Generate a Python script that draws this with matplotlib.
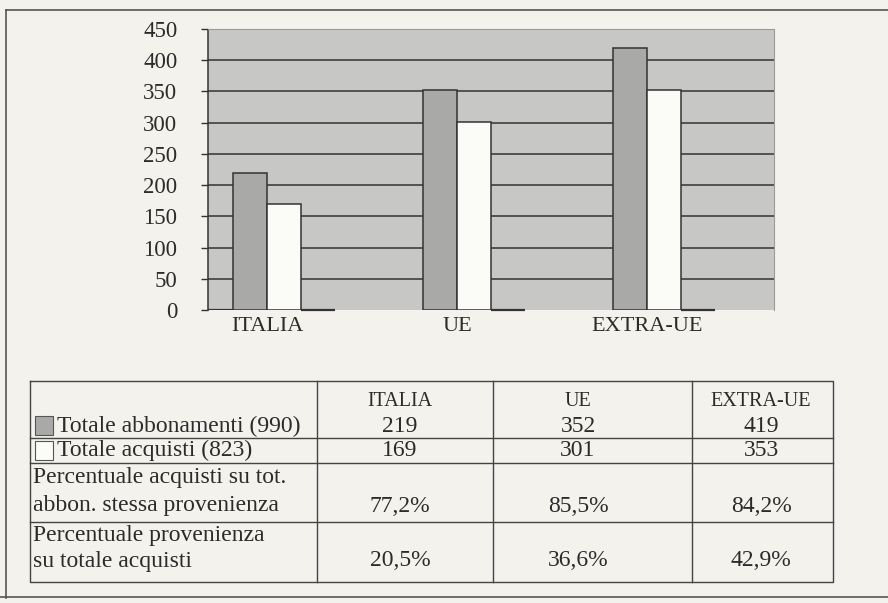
import matplotlib
matplotlib.use("Agg")
import matplotlib.pyplot as plt
from matplotlib.patches import Rectangle

# ---------------- data ----------------
categories = ["ITALIA", "UE", "EXTRA-UE"]
totale_abbonamenti = [219, 352, 419]
totale_acquisti = [169, 301, 353]
perc_acquisti_su_abbon = ["77,2%", "85,5%", "84,2%"]
perc_provenienza = ["20,5%", "36,6%", "42,9%"]
row_labels = [
    "Totale abbonamenti (990)",
    "Totale acquisti (823)",
    "Percentuale acquisti su tot.\nabbon. stessa provenienza",
    "Percentuale provenienza\nsu totale acquisti",
]
yticks = [0, 50, 100, 150, 200, 250, 300, 350, 400, 450]

# ---------------- style ----------------
W, H = 888, 603
DPI = 100
paper = "#f3f2ed"
plot_gray = "#c7c7c5"
bar_gray = "#a9a9a7"
bar_white = "#fbfbf8"
ink = "#2b2b2b"
serif = ["Liberation Serif", "DejaVu Serif"]
plt.rcParams["font.family"] = serif

fig = plt.figure(figsize=(W / DPI, H / DPI), dpi=DPI, facecolor=paper)

# ---------------- overlay (frame + table), pixel coordinates ----------------
ov = fig.add_axes([0, 0, 1, 1], zorder=0)
ov.set_xlim(0, W)
ov.set_ylim(H, 0)
ov.axis("off")
ov.patch.set_alpha(0)

# page frame
ov.plot([6, W], [10, 10], color="#555", lw=1.2)
ov.plot([6, 6], [10, 598], color="#555", lw=1.2)
ov.plot([0, W], [597, 597], color="#555", lw=1.2)

# table geometry
tx0, tx1 = 30, 833
col_x = [317, 493, 692]
t_top, t_bot = 381, 582
row_lines = [438, 463, 522]
lc = "#444"
ov.plot([tx0, tx1, tx1, tx0, tx0], [t_top, t_top, t_bot, t_bot, t_top], color=lc, lw=1)
for cx in col_x:
    ov.plot([cx, cx], [t_top, t_bot], color=lc, lw=1)
for ry in row_lines:
    ov.plot([tx0, tx1], [ry, ry], color=lc, lw=1)

col_centers = [400, 578, 761]
fs_lab = 17
fs_val = 17
# header
for c, name in zip(col_centers, categories):
    ov.text(c, 402, name, ha="center", va="center", fontsize=14.5, color=ink)

# legend swatches
ov.add_patch(Rectangle((35, 416), 18, 19, facecolor=bar_gray, edgecolor="#555", lw=0.8))
ov.add_patch(Rectangle((35, 441), 18, 19, facecolor=bar_white, edgecolor="#555", lw=0.8))
ov.text(57, 426, row_labels[0], ha="left", va="center", fontsize=fs_lab, color=ink)
ov.text(57, 450, row_labels[1], ha="left", va="center", fontsize=fs_lab, color=ink)
l3 = row_labels[2].split("\n")
ov.text(33, 477, l3[0], ha="left", va="center", fontsize=fs_lab, color=ink)
ov.text(33, 506, l3[1], ha="left", va="center", fontsize=fs_lab, color=ink)
l4 = row_labels[3].split("\n")
ov.text(33, 536, l4[0], ha="left", va="center", fontsize=fs_lab, color=ink)
ov.text(33, 561, l4[1], ha="left", va="center", fontsize=fs_lab, color=ink)

for c, v in zip(col_centers, totale_abbonamenti):
    ov.text(c, 426, str(v), ha="center", va="center", fontsize=fs_val, color=ink)
for c, v in zip(col_centers, totale_acquisti):
    ov.text(c, 450, str(v), ha="center", va="center", fontsize=fs_val, color=ink)
for c, v in zip(col_centers, perc_acquisti_su_abbon):
    ov.text(c, 506, v, ha="center", va="center", fontsize=fs_val, color=ink)
for c, v in zip(col_centers, perc_provenienza):
    ov.text(c, 561, v, ha="center", va="center", fontsize=fs_val, color=ink)

# ---------------- bar chart ----------------
px_l, px_r, px_t, px_b = 208, 774, 29, 310
ax = fig.add_axes([px_l / W, 1 - px_b / H, (px_r - px_l) / W, (px_b - px_t) / H], zorder=1)
ax.set_facecolor(plot_gray)

x = list(range(len(categories)))
spacing = 190.0
x_left = (px_l - 267) / spacing
x_right = (px_r - 267) / spacing
bw = 0.18

ax.set_xlim(x_left, x_right)
ax.set_ylim(0, 450)

for t in yticks[1:-1]:
    ax.axhline(t, color="#333", lw=1.1, zorder=1)

ax.bar([i - bw / 2 for i in x], totale_abbonamenti, width=bw, color=bar_gray,
       edgecolor="#333", lw=1.1, zorder=2)
ax.bar([i + bw / 2 for i in x], totale_acquisti, width=bw, color=bar_white,
       edgecolor="#333", lw=1.1, zorder=2)

# floor segments
ax.hlines(0, x_left, -bw, color="#333", lw=1.6, zorder=3)
for i in x:
    ax.hlines(0, i + bw, i + 0.36, color="#333", lw=1.6, zorder=3, clip_on=False)

ax.set_yticks(yticks)
ax.set_yticklabels([str(t) for t in yticks])
ax.set_xticks(x)
ax.set_xticklabels(categories)
ax.tick_params(axis="y", length=5, width=1, color="#333", pad=17, labelsize=16.5, labelcolor=ink)
ax.tick_params(axis="x", length=0, pad=5, labelsize=16, labelcolor=ink)

for s in ["top", "right"]:
    ax.spines[s].set_color("#9a9a98")
    ax.spines[s].set_linewidth(0.8)
ax.spines["bottom"].set_visible(False)
ax.spines["left"].set_color("#333")
ax.spines["left"].set_linewidth(1.1)
ax.spines["left"].set_linestyle((0, (3, 1)))

fig.savefig("out.png", dpi=DPI, facecolor=paper)
